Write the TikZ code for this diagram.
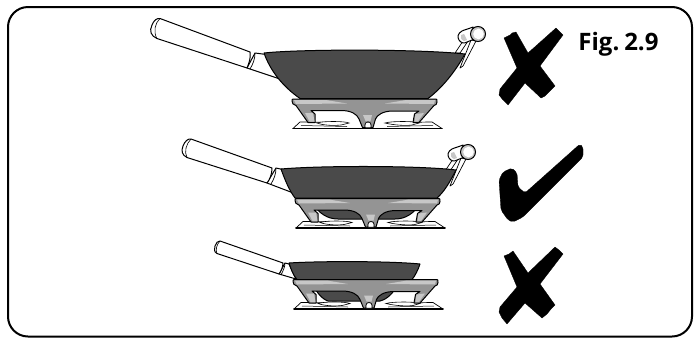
\documentclass[tikz,border=0pt]{standalone}
\usepackage{fontspec}
\setmainfont[WordSpace=0.45]{Open Sans}
\definecolor{panc}{gray}{0.29}
\definecolor{gratec}{gray}{0.58}
\definecolor{gratel}{gray}{0.78}
\tikzset{
  ol/.style={draw=black,line width=1pt,line join=round},
  markshape/.style={fill=black,draw=black,line width=0.3pt,line join=round},
  pics/burnerbase/.style={code={
    \fill[white] (-74,29.5) -- (-67,23) -- (65,23) -- (75,29.5) -- cycle;
    \draw[black,line width=0.7pt,line join=round] (-30,23.5) -- (-67,23) -- (-74,29.5) (30,23.5) -- (65,23) -- (75,29.5);
    \draw[black,line width=1.6pt,line cap=round] (-74,29.5) -- (75,29.5);
    \fill[white,draw=black,line width=0.6pt] (-50,24) .. controls (-45,22) and (-22,22) .. (-18,24) -- (-26,26) .. controls (-35,27) and (-45,26) .. cycle;
    \fill[white,draw=black,line width=0.6pt] (18,24) .. controls (24,22) and (48,22) .. (52,24) -- (45,26) .. controls (38,27) and (26,26) .. cycle;
    \draw[black,line width=0.5pt] (-66,26.5) -- (-20,27.5) (20,27.5) -- (66,26.5);
  }},
  pics/burnergrate/.style={code={
    \fill[gratec,ol] (-74,0) -- (69,0) .. controls (70,0) and (70,1) .. (70,3)
      .. controls (70,5) and (69,6) .. (67,6.5) -- (52,23.5) -- (46,23.5) -- (47.5,15) -- (52,12)
      -- (26,12) .. controls (16,12) and (10,16) .. (8.5,20) -- (6,28.5) -- (4,28.5)
      .. controls (4,24) and (3,23) .. (1,23) .. controls (-1,23) and (-2,24) .. (-2,28.5) -- (-4.5,28.5) -- (-8,20)
      .. controls (-10,15) and (-16,11.5) .. (-26,11.5) -- (-56,11.5) -- (-52,15) -- (-52,23.5) -- (-59,23.5) -- (-71,6.5)
      .. controls (-74,6) and (-75,4) .. (-75,2) .. controls (-75,1) and (-75,0) .. (-74,0) -- cycle;
    \fill[gratel] (-73,1.2) -- (-40,1.2) -- (-20,4.5) -- (-71,5) -- cycle;
    \fill[gratel] (68,1.2) -- (38,1.2) -- (18,4.5) -- (67,5) -- cycle;
    \fill[gratel] (-54,14) -- (-52.5,22.5) -- (-57.5,22.5) -- (-62,14) -- cycle;
    \fill[gratel] (48.5,15) -- (47.5,22.5) -- (51,22.5) -- (57,14) -- cycle;
    \fill[gratel] (-1.5,22) -- (-4,16) -- (5,16) -- (3.5,22) -- cycle;
    \fill[white,draw=black,line width=0.5pt] (-2,28.5) .. controls (-2,24) and (-1,23) .. (1,23) .. controls (3,23) and (4,24) .. (4,28.5) -- cycle;
  }},
  pics/helperback/.style={code={
    \fill[white,ol,line width=0.7pt] (-23,19) -- (-15,7) -- (-10,7) -- (-18,19) -- cycle;
    \fill[white,ol,line width=0.7pt] (-18,34) -- (-7,6) -- (-2,7) -- (-15,32) -- cycle;
    \fill[white,ol] (-5,-7) .. controls (-10,-5) and (-14,-4) .. (-16,-3) .. controls (-20,-1) and (-21,3) .. (-19,6)
       .. controls (-17,9) and (-14,10) .. (-11,8) -- (-1,4) -- cycle;
    \fill[gratel] (-17,1) .. controls (-18,3) and (-17,6) .. (-14,7) -- (-11,6) -- (-14,0) -- cycle;
  }},
  pics/helperring/.style={code={
    \fill[gray!45,draw=black,line width=1pt] (0,0) circle (7.5);
    \fill[white] (0.5,0) circle (5.3);
  }}
}
\begin{document}
\begin{tikzpicture}[x=1pt,y=-1pt]
\useasboundingbox (0,0) rectangle (698,338);
\draw[black,line width=2pt,rounded corners=20pt] (8,7) rectangle (692,336.5);

% ---- top wok
\path pic at (478,34) {helperback};
\fill[white,ol] (247,68) -- (255,53) -- (270,55) -- (280,79) -- cycle;
\fill[white,ol] (160,18.5) -- (250,52) .. controls (251,58) and (249,63) .. (247,68) -- (157,38.5)
   .. controls (151,36) and (149,31) .. (152,25) .. controls (154,20) and (157,18) .. (160,18.5) -- cycle;
\draw[black,line width=0.6pt] (160,18.5) .. controls (155,23) and (153,32) .. (157,38.5);
\draw[black,line width=0.7pt] (255,53) .. controls (255,59) and (253,64) .. (250,69);
\fill[panc,ol] (264,53) .. controls (300,49) and (420,49) .. (465,54) .. controls (455,72) and (442,88) .. (428,98.5) -- (300,98.5) .. controls (282,86) and (270,70) .. cycle;
\path pic at (367,99) {burnerbase};
\path pic at (367,99) {burnergrate};
\path pic at (478,34) {helperring};

% ---- middle wok
\path pic at (468,152) {helperback};
\fill[white,ol] (267,183) -- (276,168) -- (285,170) -- (296,194) -- cycle;
\fill[white,ol] (191,139) -- (272,168) .. controls (272,174) and (270,179) .. (267,183) -- (187,157.5)
   .. controls (182,155) and (181,151) .. (183,146) .. controls (185,141) and (188,138.5) .. (191,139) -- cycle;
\draw[black,line width=0.6pt] (191,139) .. controls (186,144) and (184,152) .. (187,157.5);
\draw[black,line width=0.7pt] (276,168) .. controls (276,174) and (274,179) .. (271,184);
\fill[panc,ol] (281,169) .. controls (320,165.5) and (420,165.5) .. (456,170) .. controls (450,182) and (444,192) .. (437,198) -- (295,198) .. controls (289,190) and (285,180) .. cycle;
\path pic at (370,198.5) {burnerbase};
\fill[panc,ol] (313,204) -- (420,204) .. controls (414,213) and (406,219) .. (395,219) -- (338,219) .. controls (327,219) and (319,213) .. cycle;
\path pic at (370,198.5) {burnergrate};
\path pic at (468,152) {helperring};

% ---- bottom pan
\fill[white,ol] (279,274) -- (285,263) -- (289,264) -- (296,279) -- cycle;
\fill[white,ol] (220,241) -- (283,263) .. controls (283,267) and (281,271) .. (279,274) -- (217,253.5)
   .. controls (214,252) and (214,249) .. (215,246) .. controls (216,243) and (218,240.5) .. (220,241) -- cycle;
\draw[black,line width=0.6pt] (220,241) .. controls (217,244) and (215,250) .. (217,253.5);
\draw[black,line width=0.7pt] (285,263) .. controls (285,267) and (283,271) .. (281,275);
\fill[panc,ol] (289,263) .. controls (320,261) and (390,261) .. (420,264) .. controls (418,270) and (415,276) .. (412,279.5) -- (297,279.5) .. controls (293,275) and (291,269) .. cycle;
\path pic at (368,279.5) {burnerbase};
\fill[panc,ol] (313,284) -- (398,284) .. controls (394,292) and (388,299) .. (380,301) -- (328,301) .. controls (322,299) and (316,292) .. cycle;
\path pic at (368,279.5) {burnergrate};

% ---- marks
\fill[markshape] (504,38)--(510,35)--(512,33)--(516,32)--(528,53)--(556,28)--(559,31)--(563,35)--(540,66)--(555,86)--(552,89)--(549,92)--(545,96)--(541,98)--(525,83)--(508,105)--(503,100)--(499,95)--(500,89)--(517,68)--cycle;
\fill[markshape,rounded corners=2pt] (499,180)--(503,172)--(512,168)--(517,173)--(518,187)--(525,193)--(580,144)--(583,147)--(583,157)--(523,217)--(513,222)--(508,220)--(501,210)--cycle;
\fill[markshape] (504,256)--(509,254)--(513,251)--(528,273)--(555,247)--(559,250)--(563,254)--(540,284)--(555,305)--(551,309)--(547,314)--(542,318)--(525,303)--(507,324)--(502,318)--(499,312)--(500,307)--(517,287)--cycle;

\node[font=\bfseries\fontsize{24}{26}\selectfont,anchor=base,inner sep=0pt] (figlabel) at (618.5,50) {Fig. 2.9};
\end{tikzpicture}
\end{document}
